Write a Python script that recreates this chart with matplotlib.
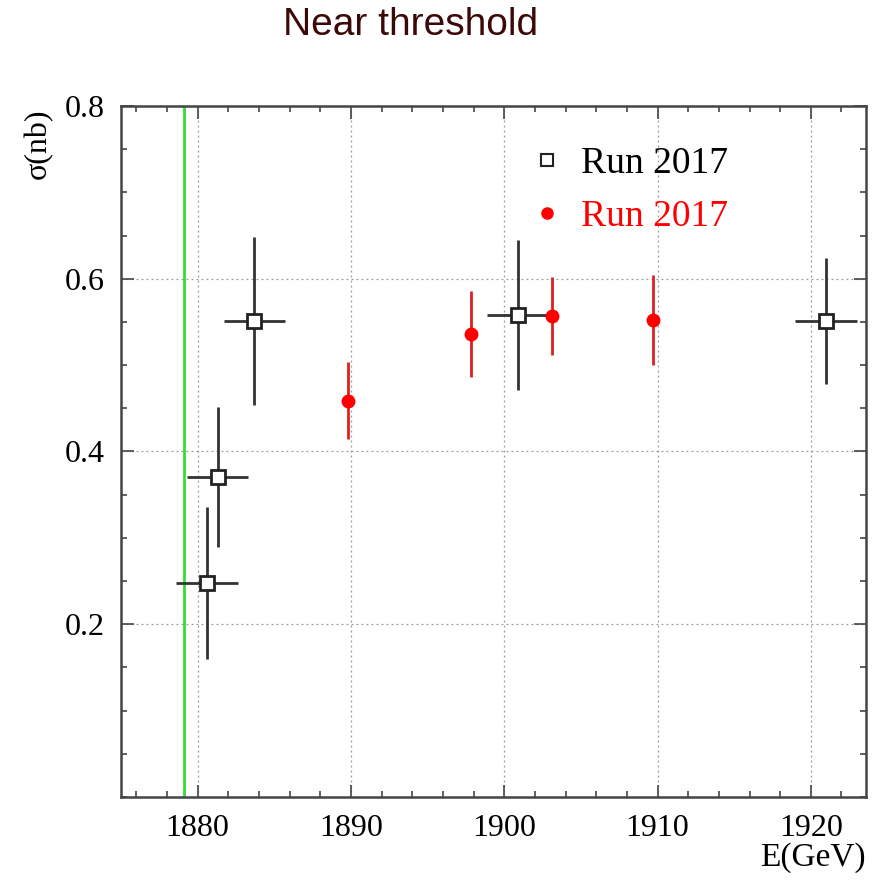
import matplotlib
matplotlib.use("Agg")
import matplotlib.pyplot as plt
from matplotlib.lines import Line2D
from matplotlib.ticker import MultipleLocator

# black open squares (with energy spread)
e_sq = [1880.6, 1881.3, 1883.7, 1900.9, 1921.0]
s_sq = [0.248, 0.371, 0.551, 0.558, 0.551]
s_sq_err = [0.088, 0.081, 0.097, 0.087, 0.073]
e_sq_err = [2.0, 2.0, 2.0, 2.0, 2.0]

# red filled circles
e_red = [1889.8, 1897.8, 1903.1, 1909.7]
s_red = [0.459, 0.536, 0.557, 0.552]
s_red_err = [0.045, 0.050, 0.045, 0.052]

threshold = 1879.1

plt.rcParams['font.family'] = ['Liberation Serif', 'DejaVu Serif']

fig = plt.figure(figsize=(8.8, 8.82), dpi=100)
ax = fig.add_axes([0.1375, 0.0964, 0.8466, 0.7834])

ax.axvline(threshold, color='#33dd33', lw=2.0, zorder=2)

ax.errorbar(e_sq, s_sq, yerr=s_sq_err, xerr=e_sq_err, fmt='s', ms=9.5,
            mfc='white', mec='#222222', mew=2.0, ecolor='#333333',
            elinewidth=2.0, capsize=0, zorder=4)
ax.errorbar(e_red, s_red, yerr=s_red_err, fmt='o', ms=9,
            mfc='red', mec='red', ecolor='#e02020',
            elinewidth=2.0, capsize=0, zorder=4)

ax.set_xlim(1875, 1923.6)
ax.set_ylim(0, 0.8)
ax.xaxis.set_major_locator(MultipleLocator(10))
ax.xaxis.set_minor_locator(MultipleLocator(2))
ax.yaxis.set_major_locator(MultipleLocator(0.2))
ax.yaxis.set_minor_locator(MultipleLocator(0.05))
ax.set_yticks([0.2, 0.4, 0.6, 0.8])
ax.tick_params(which='both', direction='in', top=True, right=True,
               color='#444444', width=1.2)
ax.tick_params(which='major', length=9, labelsize=23, pad=12)
ax.tick_params(which='minor', length=4.5)
for sp in ax.spines.values():
    sp.set_linewidth(1.8)
    sp.set_color('#444444')
ax.grid(True, which='major', ls=(0, (1.5, 2.5)), color='#999999', lw=0.9)

ax.text(1.0, -0.066, 'E(GeV)', transform=ax.transAxes, ha='right',
        va='top', fontsize=24)
fig.text(0.043, 0.837, 'σ(nb)', rotation=90, ha='center', va='center',
         fontsize=23)

handles = [Line2D([], [], ls='none', marker='s', ms=9, mfc='white',
                  mec='#222222', mew=1.5),
           Line2D([], [], ls='none', marker='o', ms=8, mfc='red', mec='red')]
ax.legend(handles, ['Run 2017', 'Run 2017'], loc='upper left',
          bbox_to_anchor=(0.476, 0.99), frameon=False, fontsize=27,
          labelcolor=['black', 'red'], handletextpad=-0.1, labelspacing=0.5)

fig.text(0.466, 0.992, 'Near threshold', ha='center', va='top',
         fontsize=28, color='#3d0808', family=['Liberation Sans', 'DejaVu Sans'])

fig.savefig('out.png', dpi=100)
